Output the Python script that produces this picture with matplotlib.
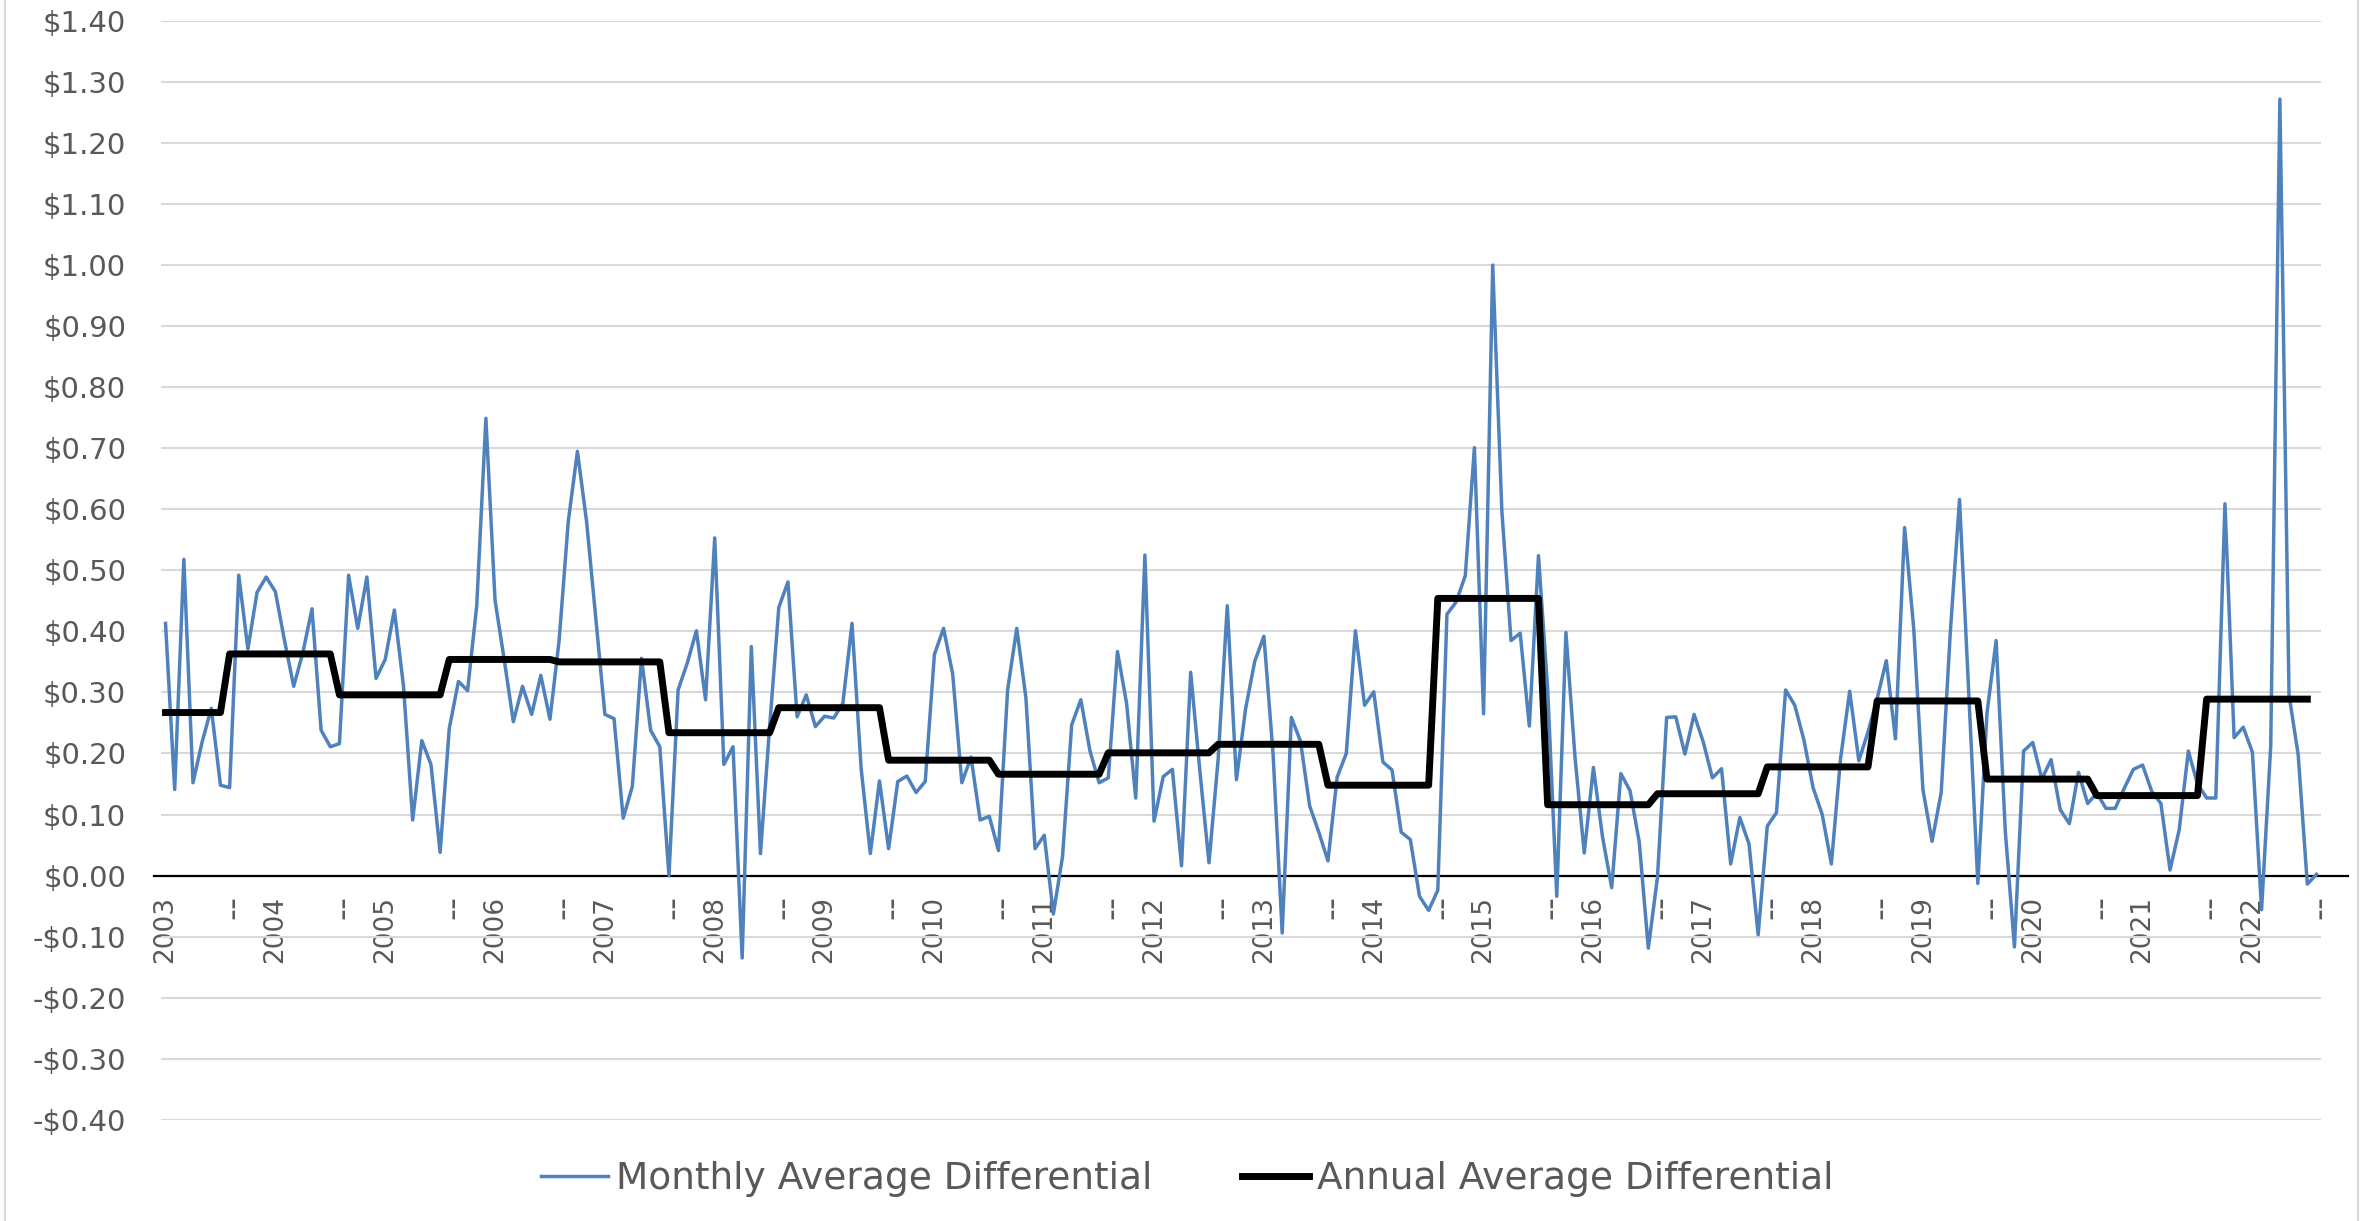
import numpy as np
import matplotlib
matplotlib.use('Agg')
import matplotlib.pyplot as plt
from matplotlib.lines import Line2D

# monthly differential, one value per month starting Jan 2003
monthly_diff = [
    0.413, 0.141, 0.518, 0.152, 0.219, 0.274, 0.148, 0.144, 0.492, 0.371, 0.464, 0.489,
    0.465, 0.385, 0.310, 0.365, 0.437, 0.238, 0.211, 0.216, 0.492, 0.405, 0.489, 0.323,
    0.354, 0.435, 0.310, 0.091, 0.221, 0.182, 0.038, 0.241, 0.318, 0.303, 0.442, 0.749,
    0.451, 0.354, 0.252, 0.310, 0.264, 0.328, 0.256, 0.385, 0.580, 0.695, 0.580, 0.423,
    0.264, 0.257, 0.094, 0.146, 0.356, 0.238, 0.211, 0.000, 0.304, 0.348, 0.401, 0.288,
    0.553, 0.182, 0.211, -0.135, 0.375, 0.036, 0.244, 0.439, 0.481, 0.260, 0.296, 0.244,
    0.261, 0.258, 0.282, 0.413, 0.175, 0.036, 0.155, 0.044, 0.154, 0.163, 0.136, 0.154,
    0.362, 0.405, 0.330, 0.152, 0.194, 0.091, 0.097, 0.041, 0.304, 0.405, 0.291, 0.044,
    0.066, -0.063, 0.031, 0.247, 0.288, 0.204, 0.152, 0.160, 0.367, 0.282, 0.127, 0.525,
    0.089, 0.162, 0.174, 0.016, 0.333, 0.172, 0.021, 0.190, 0.442, 0.157, 0.273, 0.351,
    0.392, 0.200, -0.094, 0.259, 0.220, 0.114, 0.071, 0.024, 0.161, 0.200, 0.401, 0.279,
    0.301, 0.186, 0.173, 0.071, 0.059, -0.034, -0.057, -0.024, 0.428, 0.448, 0.491, 0.701,
    0.265, 1.000, 0.597, 0.385, 0.397, 0.245, 0.524, 0.306, -0.034, 0.398, 0.192, 0.037,
    0.177, 0.063, -0.020, 0.167, 0.139, 0.056, -0.119, -0.003, 0.259, 0.260, 0.199, 0.264,
    0.219, 0.160, 0.175, 0.019, 0.095, 0.052, -0.097, 0.081, 0.103, 0.304, 0.279, 0.222,
    0.144, 0.100, 0.019, 0.191, 0.302, 0.188, 0.235, 0.290, 0.352, 0.224, 0.570, 0.404,
    0.141, 0.056, 0.136, 0.400, 0.616, 0.300, -0.013, 0.266, 0.385, 0.073, -0.117, 0.204,
    0.218, 0.158, 0.190, 0.108, 0.085, 0.169, 0.118, 0.135, 0.110, 0.110, 0.143, 0.174,
    0.181, 0.138, 0.118, 0.009, 0.075, 0.204, 0.150, 0.127, 0.127, 0.609, 0.226, 0.243,
    0.202, -0.056, 0.212, 1.272, 0.296, 0.198, -0.014, 0.002,
]

# annual (Aug-Jul) averages and how many months each one covers
annual_diff = [0.267, 0.363, 0.296, 0.354, 0.350, 0.234, 0.275, 0.189, 0.166, 0.201,
               0.215, 0.148, 0.454, 0.116, 0.134, 0.178, 0.286, 0.158, 0.131, 0.289]
months_per_period = [7] + [12] * 19

year_labels = ['2003', '2004', '2005', '2006', '2007', '2008', '2009', '2010', '2011', '2012',
               '2013', '2014', '2015', '2016', '2017', '2018', '2019', '2020', '2021', '2022']

grey_txt = '#595959'

annual_line = np.repeat(annual_diff, months_per_period)
x_month = np.arange(len(monthly_diff))
x_annual = np.arange(len(annual_line))

fig = plt.figure(figsize=(23.74, 12.21), dpi=100)
ax = fig.add_axes([0.0678, 0.0827, 0.9777 - 0.0678, 0.9831 - 0.0827])

for s in ax.spines.values():
    s.set_color('none')
# category labels hang off the zero line, not the bottom of the plot
ax.spines['bottom'].set_position(('data', 0))

ax.plot(x_month, monthly_diff, color='#4F81BD', lw=2.5, zorder=3,
        label='Monthly Average Differential')
ax.plot(x_annual, annual_line, color='black', lw=5, zorder=4,
        label='Annual Average Differential')
# zero line runs a bit past the plot area like in the original
ax.plot([-1.3, 238.4], [0, 0], color='black', lw=1.6, clip_on=False, zorder=2)

ax.set_xlim(-0.5, len(monthly_diff) - 0.5)
ax.set_ylim(-0.4005, 1.4005)

yt = np.round(np.arange(-0.4, 1.41, 0.1), 2)
ylabs = [('-$%.2f' % abs(v)) if v < -0.001 else ('$%.2f' % abs(v)) for v in yt]
ax.set_yticks(yt, ylabs)

year_pos = np.arange(len(year_labels)) * 12
ax.set_xticks(year_pos, year_labels)
ax.set_xticks(year_pos + 7.4, ['--'] * len(year_labels), minor=True)

ax.tick_params(axis='both', which='both', length=0, colors=grey_txt)
ax.tick_params(axis='y', labelsize=21, pad=25)
ax.tick_params(axis='x', which='major', labelsize=19, pad=15, labelrotation=90)
ax.tick_params(axis='x', which='minor', labelsize=24, pad=14, labelrotation=90)

ax.yaxis.grid(True, color='#D9D9D9', lw=1.5)
ax.set_axisbelow(True)

fig.legend(loc='center', bbox_to_anchor=(0.5, 0.034), ncol=2, frameon=False,
           fontsize=27, labelcolor=grey_txt, handlelength=1.8, handletextpad=0.2,
           columnspacing=2.4)

# light chart-area border
fig.lines.append(Line2D([0.0023, 0.0023], [0, 1], transform=fig.transFigure, color='#D9D9D9', lw=1.5))
fig.lines.append(Line2D([0.9933, 0.9933], [0, 1], transform=fig.transFigure, color='#D9D9D9', lw=1.5))

fig.savefig('out.png', dpi=100)
